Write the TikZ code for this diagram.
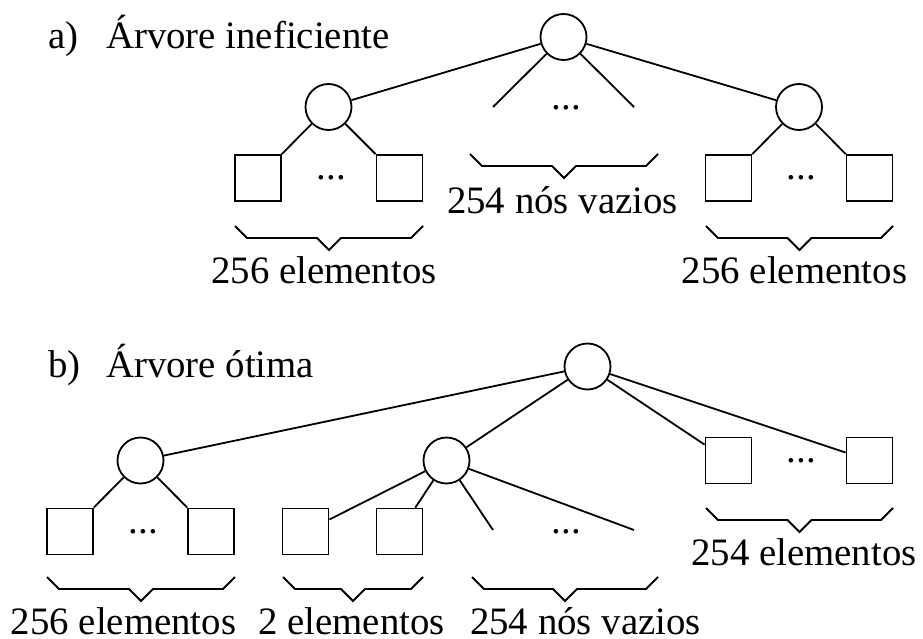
\documentclass[tikz,border=0pt]{standalone}
\usepackage{fontspec}
\setmainfont{Liberation Serif}
\newcommand\mybrace[3]{%
  \draw[edge] (#1,#3) -- ++(12,12) -- ({(#1+#2)/2-12},{#3+12}) -- ({(#1+#2)/2},{#3+24}) -- ({(#1+#2)/2+12},{#3+12}) -- ({#2-12},{#3+12}) -- (#2,#3);}
\begin{document}
\begin{tikzpicture}[x=1pt,y=-1pt,
  inner/.style={circle,draw,line width=1.8pt,minimum size=46pt,inner sep=0pt},
  leaf/.style={rectangle,draw,line width=1.8pt,minimum size=46pt,inner sep=0pt},
  edge/.style={line width=1.8pt},
  lbl/.style={font=\fontsize{38.8pt}{46pt}\selectfont,inner sep=0pt,anchor=base},
  ttl/.style={font=\fontsize{38.8pt}{46pt}\selectfont,inner sep=0pt,anchor=base west},
  dots/.style={font=\fontsize{38.8pt}{46pt}\selectfont,inner sep=0pt,anchor=base}]
\useasboundingbox (0,0) rectangle (923,639);

% ---------- a) ----------
\node[ttl] (ta) at (48,49) {a)};
\node[ttl] (tat) at (106,49) {Árvore ineficiente};

\node[inner] (ra) at (563.5,37) {};
\node[inner] (al) at (328.5,107) {};
\node[inner] (ar) at (799,107) {};
\node[leaf] (a1) at (258,178) {};
\node[leaf] (a2) at (399.5,178) {};
\node[leaf] (a3) at (728.5,178) {};
\node[leaf] (a4) at (869.5,178) {};
\coordinate (sa1) at (493,107);
\coordinate (sa2) at (634,107);

\draw[edge] (ra) -- (al);
\draw[edge] (ra) -- (ar);
\draw[edge] (ra) -- (sa1);
\draw[edge] (ra) -- (sa2);
\draw[edge] (al) -- (a1);
\draw[edge] (al) -- (a2);
\draw[edge] (ar) -- (a3);
\draw[edge] (ar) -- (a4);

\node[dots] (da1) at (331.5,180) {...};
\node[dots] (da2) at (566.5,110) {...};
\node[dots] (da3) at (801.5,180) {...};

\mybrace{235}{423}{226}
\mybrace{470}{658}{154}
\mybrace{706}{893}{226}

\node[lbl] (la1) at (324,283) {256 elementos};
\node[lbl] (la2) at (562.5,213) {254 nós vazios};
\node[lbl] (la3) at (794.5,283) {256 elementos};

% ---------- b) ----------
\node[ttl] (tb) at (48,377) {b)};
\node[ttl] (tbt) at (106,377) {Árvore ótima};

\node[inner] (rb) at (587.5,366.5) {};
\node[inner] (bl) at (140.5,460.5) {};
\node[inner] (bm) at (446.5,460.5) {};
\node[leaf] (b1) at (70,531.5) {};
\node[leaf] (b2) at (211,531.5) {};
\node[leaf] (b3) at (305.5,531.5) {};
\node[leaf] (b4) at (399.5,531.5) {};
\node[leaf] (b5) at (728.5,460.5) {};
\node[leaf] (b6) at (869.5,460.5) {};
\coordinate (sb1) at (493,530);
\coordinate (sb2) at (634,530);

\draw[edge] (rb) -- (bl);
\draw[edge] (rb) -- (bm);
\draw[edge] (rb) -- (b5);
\draw[edge] (rb) -- (b6);
\draw[edge] (bl) -- (b1);
\draw[edge] (bl) -- (b2);
\draw[edge] (bm) -- (b3);
\draw[edge] (bm) -- (b4);
\draw[edge] (bm) -- (sb1);
\draw[edge] (bm) -- (sb2);

\node[dots] (db1) at (143.5,533) {...};
\node[dots] (db2) at (566.5,533) {...};
\node[dots] (db3) at (801.5,462) {...};

\mybrace{706}{893}{508}
\mybrace{47}{235}{577}
\mybrace{283}{423}{577}
\mybrace{472}{658}{577}

\node[lbl] (lb1) at (804,565) {254 elementos};
\node[lbl] (lb2) at (123.5,634) {256 elementos};
\node[lbl] (lb3) at (351.5,634) {2 elementos};
\node[lbl] (lb4) at (585.5,634) {254 nós vazios};
\end{tikzpicture}
\end{document}
